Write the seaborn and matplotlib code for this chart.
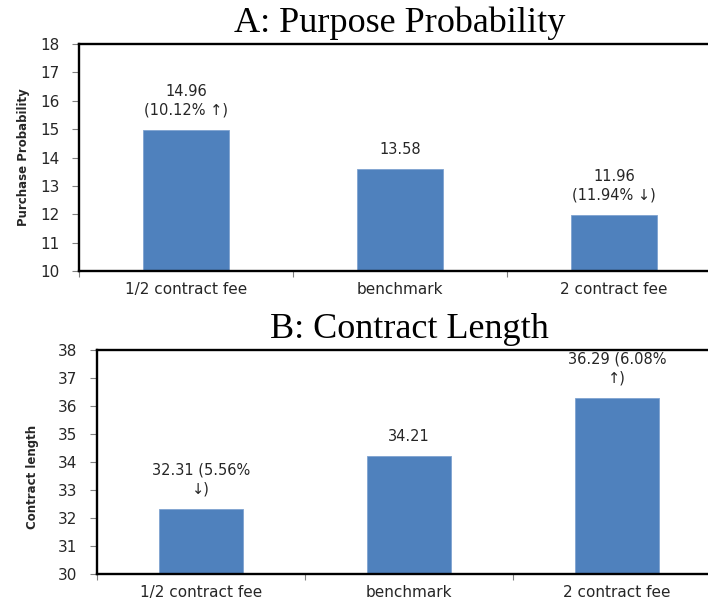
import matplotlib
matplotlib.use("Agg")
import matplotlib.pyplot as plt
import seaborn as sns
import pandas as pd
from matplotlib.ticker import FixedLocator, MultipleLocator

# Scenario names shared by both panels
scenarios = ["1/2 contract fee", "benchmark", "2 contract fee"]

# Panel A: purchase probability
purchase_prob = [14.96, 13.58, 11.96]
purchase_labels = ["14.96\n(10.12% \u2191)", "13.58", "11.96\n(11.94% \u2193)"]

# Panel B: contract length
contract_len = [32.31, 34.21, 36.29]
contract_labels = ["32.31 (5.56%\n\u2193)", "34.21", "36.29 (6.08%\n\u2191)"]

sns.set_theme(style="white")
plt.rcParams["font.family"] = ["DejaVu Sans"]

BAR_COLOR = "#4F81BD"
TEXT_COLOR = "#262626"

fig = plt.figure(figsize=(7.08, 6.05), dpi=100)
ax_a = fig.add_axes([79 / 708, (605 - 271) / 605, 642 / 708, 227 / 605])
ax_b = fig.add_axes([97 / 708, (605 - 574) / 605, 624 / 708, 224 / 605])


def draw_panel(ax, values, labels, title, ylabel, ylim, label_pos):
    df = pd.DataFrame({"scenario": scenarios, "value": values})
    sns.barplot(data=df, x="scenario", y="value", order=scenarios, ax=ax,
                color=BAR_COLOR, saturation=1, width=0.4,
                edgecolor="#7fa3d0", linewidth=0.6)
    ax.set_xlim(-0.5, 2.5)
    ax.set_ylim(*ylim)
    ax.yaxis.set_major_locator(MultipleLocator(1))

    for name in ["top", "bottom", "left"]:
        ax.spines[name].set_visible(True)
        ax.spines[name].set_color("black")
        ax.spines[name].set_linewidth(1.7)
    ax.spines["right"].set_visible(False)

    # y ticks: short grey marks outside the frame
    ax.tick_params(axis="y", which="major", left=True, direction="out",
                   length=5, width=0.8, color="#808080", pad=9,
                   labelsize=11, labelcolor=TEXT_COLOR)
    # x ticks: labels centred under bars, marks on the category boundaries
    ax.xaxis.set_minor_locator(FixedLocator([-0.5, 0.5, 1.5, 2.5]))
    ax.tick_params(axis="x", which="major", length=0, pad=8,
                   labelsize=11, labelcolor=TEXT_COLOR)
    ax.tick_params(axis="x", which="minor", bottom=True, direction="out",
                   length=4, width=0.8, color="#808080")

    ax.set_xlabel("")
    ax.set_ylabel(ylabel, fontsize=8.5, fontweight="bold", color=TEXT_COLOR)
    ax.yaxis.set_label_coords(*label_pos)
    ax.set_title(title, fontsize=26, family="Liberation Serif",
                 color="black", pad=9)

    for patch, text in zip(ax.patches, labels):
        x = patch.get_x() + patch.get_width() / 2
        y = patch.get_height()
        ax.annotate(text, (x, y), xytext=(0, 9), textcoords="offset points",
                    ha="center", va="bottom", multialignment="center",
                    fontsize=10.5, color=TEXT_COLOR, linespacing=1.35,
                    annotation_clip=False)


draw_panel(ax_a, purchase_prob, purchase_labels, "A: Purpose Probability",
           "Purchase Probability", (10, 18), (-0.076, 0.5))
draw_panel(ax_b, contract_len, contract_labels, "B: Contract Length",
           "Contract length", (30, 38), (-0.093, 0.433))

fig.savefig("out.png", dpi=100)
